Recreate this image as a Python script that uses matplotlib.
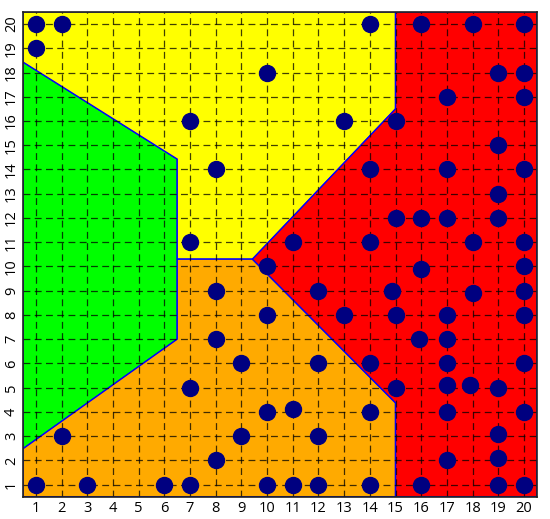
import matplotlib
matplotlib.use("Agg")
import matplotlib.pyplot as plt
from matplotlib.patches import Polygon

plt.rcParams["font.family"] = ["Open Sans", "DejaVu Sans"]

# region outlines (data units)
green_x = [0.5, 6.5, 6.5, 0.5]
green_y = [18.43, 14.43, 7.0, 2.48]
yellow_x = [0.5, 15.0, 15.0, 9.43, 6.5, 6.5, 0.5]
yellow_y = [20.5, 20.5, 16.5, 10.3, 10.3, 14.43, 18.43]
orange_x = [0.5, 15.0, 15.0, 9.43, 6.5, 6.5, 0.5]
orange_y = [0.5, 0.5, 4.37, 10.3, 10.3, 7.0, 2.48]
red_x = [15.0, 20.5, 20.5, 15.0, 15.0, 9.43, 15.0]
red_y = [20.5, 20.5, 0.5, 0.5, 4.37, 10.3, 16.5]

# points
px = [1, 2, 14, 16, 18, 20,
      1,
      10, 19, 20,
      17, 20,
      7, 13, 15,
      19,
      8, 14, 17, 20,
      19,
      15, 16, 17, 19,
      7, 11, 14, 18, 20,
      10, 16, 20,
      8, 12, 14.85, 18, 20,
      10, 13, 15, 17, 20,
      8, 15.9, 17,
      9, 12, 14, 17, 20,
      7, 15, 17, 17.9, 19,
      10, 11, 14, 17, 20,
      2, 9, 12, 19,
      8, 17, 19,
      1, 3, 6, 7, 10, 11, 12, 14, 16, 19, 20]
py = [20, 20, 20, 20, 20, 20,
      19,
      18, 18, 18,
      17, 17,
      16, 16, 16,
      15,
      14, 14, 14, 14,
      13,
      12, 12, 12, 12,
      11, 11, 11, 11, 11,
      10, 9.9, 10,
      9, 9, 9, 8.9, 9,
      8, 8, 8, 8, 8,
      7, 7, 7,
      6, 6, 6, 6, 6,
      5, 5, 5.1, 5.1, 5,
      4, 4.1, 4, 4, 4,
      3, 3, 3, 3.1,
      2, 2, 2.1,
      1, 1, 1, 1, 1, 1, 1, 1, 1, 1, 1]

ticks = list(range(1, 21))

fig = plt.figure(figsize=(5.5, 5.19), dpi=100)
ax = fig.add_axes([0.042, 0.043, 0.934, 0.934])

regions = [(green_x, green_y, "#00ff00"),
           (yellow_x, yellow_y, "#ffff00"),
           (orange_x, orange_y, "#ffaa00"),
           (red_x, red_y, "#ff0000")]
for xs, ys, c in regions:
    ax.add_patch(Polygon(list(zip(xs, ys)), closed=True, facecolor=c,
                         edgecolor="#0000ff", linewidth=1.0, zorder=1))

for t in ticks:
    ax.axvline(t, color="black", alpha=0.75, lw=0.9, dashes=(5.5, 3.5), zorder=2)
    ax.axhline(t, color="black", alpha=0.75, lw=0.9, dashes=(5.5, 3.5), zorder=2)

ax.plot(px, py, "o", color="#000080", markersize=11.5, zorder=3)

ax.set_xlim(0.5, 20.5)
ax.set_ylim(0.5, 20.5)
ax.set_xticks(ticks)
ax.set_yticks(ticks)
ax.tick_params(length=0, labelsize=10.5, pad=3)
for lab in ax.get_yticklabels():
    lab.set_rotation(90)
    lab.set_va("center")
for s in ax.spines.values():
    s.set_linewidth(1.2)
    s.set_color("#222222")

fig.savefig("out.png", dpi=100)
